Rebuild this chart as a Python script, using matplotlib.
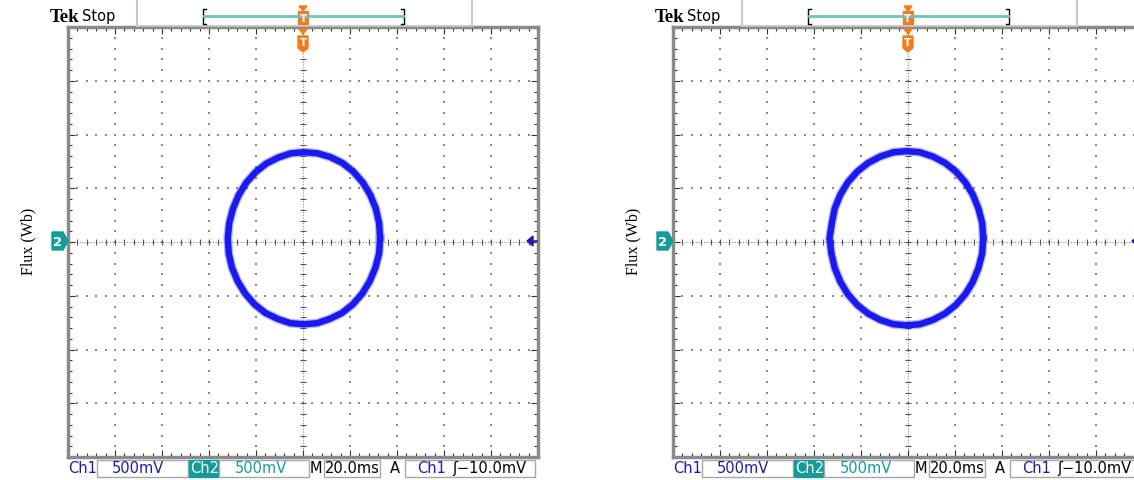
import matplotlib
matplotlib.use('Agg')
import matplotlib.pyplot as plt
import numpy as np
from matplotlib.patches import Rectangle, Polygon

W, H = 1134, 481

# traced loops, in screen divisions (10 x 8 graticule, centre = 0, 0)
left_x = [1.64, 1.62, 1.55, 1.43, 1.27, 1.07, 0.84, 0.58, 0.31, 0.02,
          -0.26, -0.53, -0.78, -1.01, -1.21, -1.37, -1.49, -1.57, -1.60,
          -1.58, -1.51, -1.39, -1.23, -1.03, -0.80, -0.54, -0.27, 0.02,
          0.30, 0.57, 0.83, 1.06, 1.26, 1.42, 1.54, 1.62]
left_y = [0.07, 0.35, 0.62, 0.88, 1.11, 1.31, 1.47, 1.58, 1.65, 1.67,
          1.65, 1.57, 1.46, 1.30, 1.10, 0.87, 0.62, 0.35, 0.07,
          -0.21, -0.48, -0.73, -0.96, -1.16, -1.32, -1.43, -1.51, -1.53,
          -1.51, -1.43, -1.32, -1.16, -0.96, -0.73, -0.48, -0.21]

right_x = [1.60, 1.58, 1.50, 1.38, 1.22, 1.02, 0.79, 0.53, 0.25, -0.03,
           -0.31, -0.59, -0.85, -1.08, -1.28, -1.44, -1.56, -1.62, -1.67,
           -1.63, -1.56, -1.44, -1.28, -1.08, -0.85, -0.59, -0.31, -0.03,
           0.25, 0.53, 0.79, 1.02, 1.22, 1.38, 1.50, 1.58]
right_y = [0.07, 0.35, 0.62, 0.88, 1.11, 1.31, 1.47, 1.59, 1.67, 1.69,
           1.67, 1.59, 1.47, 1.31, 1.11, 0.88, 0.62, 0.35, 0.07,
           -0.21, -0.48, -0.74, -0.97, -1.17, -1.33, -1.45, -1.53, -1.55,
           -1.53, -1.45, -1.33, -1.17, -0.97, -0.74, -0.48, -0.21]

ch1_scale = '500mV'
ch2_scale = '500mV'
time_scale = '20.0ms'
trig_src = 'Ch1'
trig_level = '\u0283\u221210.0mV'
flux_label = 'Flux (Wb)'

BLUE = '#1c1ca8'
TEAL = '#149c9c'
ORANGE = '#f07c1c'
TRACE = '#1a1af0'

fig = plt.figure(figsize=(W / 100, H / 100), dpi=100)
fig.patch.set_facecolor('white')

# overlay in pixel coordinates for the scope's screen furniture
ov = fig.add_axes([0, 0, 1, 1])
ov.set_xlim(0, W)
ov.set_ylim(H, 0)
ov.axis('off')
ov.patch.set_alpha(0)
ov.set_zorder(5)


def draw_panel(dx, xs, ys):
    ax = fig.add_axes([(68 + dx) / W, (H - 458) / H, 470 / W, 430 / H])
    ax.set_xlim(-5, 5)
    ax.set_ylim(-4, 4)
    for sp in ax.spines.values():
        sp.set_color('#8a8a8a')
        sp.set_linewidth(2.5)
    ax.set_xticks(np.arange(-5, 5.01, 1))
    ax.set_yticks(np.arange(-4, 4.01, 1))
    ax.set_xticks(np.arange(-5, 5.01, 0.2), minor=True)
    ax.set_yticks(np.arange(-4, 4.01, 0.2), minor=True)
    ax.tick_params(which='both', direction='in', top=True, right=True,
                   labelbottom=False, labelleft=False, color='#333333',
                   width=0.8)
    ax.tick_params(which='major', length=5)
    ax.tick_params(which='minor', length=3)

    # graticule dots
    fine_y = np.arange(-4, 4.01, 0.2)
    fine_x = np.arange(-5, 5.01, 0.2)
    for gx in range(-4, 5):
        if gx == 0:
            continue
        ax.scatter(np.full_like(fine_y, gx), fine_y, s=1.0, marker='s',
                   color='#8a8a8a', lw=0, zorder=1)
    for gy in range(-3, 4):
        if gy == 0:
            continue
        ax.scatter(fine_x, np.full_like(fine_x, gy), s=1.0, marker='s',
                   color='#8a8a8a', lw=0, zorder=1)

    # centre axes
    ax.plot([-5, 5], [0, 0], color='#888888', lw=0.8, ls=(0, (1, 1.5)), zorder=1)
    ax.plot([0, 0], [-4, 4], color='#888888', lw=0.8, ls=(0, (1, 1.5)), zorder=1)
    ax.plot(fine_x, np.zeros_like(fine_x), ls='none', marker='|', ms=4,
            color='#555555', mew=0.8, zorder=1)
    ax.plot(np.zeros_like(fine_y), fine_y, ls='none', marker='_', ms=4,
            color='#555555', mew=0.8, zorder=1)

    # trace
    px = list(xs) + [xs[0]]
    py = list(ys) + [ys[0]]
    ax.plot(px, py, color=TRACE, lw=6.5, alpha=0.3, zorder=3,
            solid_joinstyle='round')
    ax.plot(px, py, color=TRACE, lw=4.6, zorder=4, solid_joinstyle='round')

    # header
    ov.text(50 + dx, 17, 'Tek', fontsize=13.5, fontweight='bold',
            family='Liberation Serif', va='center', ha='left')
    ov.text(82 + dx, 16, 'Stop', fontsize=10.5, va='center', ha='left')
    ov.plot([137 + dx, 137 + dx], [0, 27], color='#c8c8c8', lw=1.5)
    ov.plot([472 + dx, 472 + dx], [0, 27], color='#c8c8c8', lw=1.5)
    ov.plot([137 + dx, 472 + dx], [27, 27], color='#c8c8c8', lw=1.2)
    ov.plot([206 + dx, 203 + dx, 203 + dx, 206 + dx], [10, 10, 25, 25],
            color='black', lw=1)
    ov.plot([401 + dx, 404 + dx, 404 + dx, 401 + dx], [10, 10, 25, 25],
            color='black', lw=1)
    ov.plot([204 + dx, 403 + dx], [17, 17], color='#6cc4c0', lw=2)

    # trigger position markers
    cx = 303 + dx
    ov.add_patch(Polygon([(cx - 4, 7), (cx + 4, 7), (cx, 12)], color=ORANGE))
    ov.add_patch(Rectangle((cx - 5, 12), 10, 13, color=ORANGE))
    ov.text(cx, 18.5, 'T', color='white', fontsize=7.5, fontweight='bold',
            ha='center', va='center')
    ov.add_patch(Polygon([(cx - 4, 30), (cx + 4, 30), (cx, 35)], color=ORANGE))
    ov.add_patch(Polygon([(cx - 5, 37), (cx + 5, 37), (cx + 5, 49), (cx, 53),
                          (cx - 5, 49)], color=ORANGE))
    ov.text(cx, 43.5, 'T', color='white', fontsize=7.5, fontweight='bold',
            ha='center', va='center')

    # channel 2 ground marker and right-edge marker
    ov.add_patch(Polygon([(52 + dx, 233), (63 + dx, 233), (68 + dx, 242),
                          (63 + dx, 251), (52 + dx, 251)], color=TEAL))
    ov.text(58 + dx, 242.5, '2', color='white', fontsize=9.5,
            fontweight='bold', ha='center', va='center')
    ov.add_patch(Polygon([(527 + dx, 242), (533 + dx, 237), (533 + dx, 247)],
                         color=BLUE))
    ov.plot([532 + dx, 537 + dx], [242, 242], color=BLUE, lw=1.2)

    # y label
    ov.text(28 + dx, 241, flux_label, rotation=90, family='Liberation Serif',
            fontsize=11.5, ha='center', va='center')

    # status bar
    yb = 469
    fs = 10.5
    ov.text(68 + dx, yb, 'Ch1', color=BLUE, fontsize=fs, va='center')
    ov.add_patch(Rectangle((97 + dx, 461), 91, 17, fc='white', ec='#a8a8a8', lw=1))
    ov.text(112 + dx, yb, ch1_scale, color=BLUE, fontsize=fs, va='center')
    ov.add_patch(Rectangle((189 + dx, 461), 29, 17, color=TEAL))
    ov.text(190 + dx, yb, 'Ch2', color='white', fontsize=fs, va='center')
    ov.add_patch(Rectangle((219 + dx, 461), 90, 17, fc='white', ec='#a8a8a8', lw=1))
    ov.text(235 + dx, yb, ch2_scale, color=TEAL, fontsize=fs, va='center')
    ov.text(310 + dx, yb, 'M', color='black', fontsize=fs, va='center')
    ov.add_patch(Rectangle((324 + dx, 461), 56, 17, fc='white', ec='#a8a8a8', lw=1))
    ov.text(325 + dx, yb, time_scale, color='black', fontsize=fs, va='center')
    ov.text(390 + dx, yb, 'A', color='black', fontsize=fs, va='center')
    ov.add_patch(Rectangle((405 + dx, 461), 130, 17, fc='white', ec='#a8a8a8', lw=1))
    ov.text(417 + dx, yb, trig_src, color=BLUE, fontsize=fs, va='center')
    ov.text(452 + dx, yb, trig_level, color='black', fontsize=fs, va='center')


draw_panel(0, left_x, left_y)
draw_panel(605, right_x, right_y)

fig.savefig('out.png', dpi=100)
